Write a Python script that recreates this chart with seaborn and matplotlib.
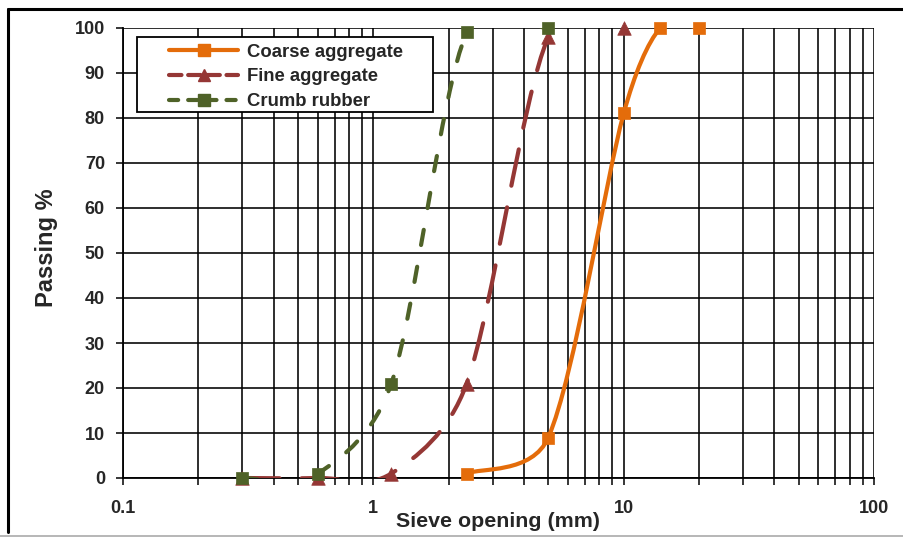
import numpy as np
import matplotlib
matplotlib.use("Agg")
import matplotlib.pyplot as plt
import seaborn as sns
from matplotlib.path import Path
from matplotlib.patches import PathPatch, Rectangle
from matplotlib.lines import Line2D
from matplotlib.ticker import LogLocator, FixedLocator, NullFormatter, FixedFormatter

# ---- data ----
coarse_x = [2.36, 5, 10, 14, 20]
coarse_y = [1, 9, 81, 100, 100]
fine_x = [0.3, 0.6, 1.18, 2.36, 5, 10]
fine_y = [0, 0, 1, 21, 98, 100]
rubber_x = [0.3, 0.6, 1.18, 2.36, 5]
rubber_y = [0, 1, 21, 99, 100]

series_names = ["Coarse aggregate", "Fine aggregate", "Crumb rubber"]
x_ticks = [0.1, 1, 10, 100]
x_tick_labels = ["0.1", "1", "10", "100"]
y_ticks = list(range(0, 101, 10))

colors = ["#E46C0A", "#953735", "#4F6228"]
markers = ["s", "^", "s"]
dashes = [None, (8.9, 5.3), (3.7, 5.3)]

sns.set_style("white")
plt.rcParams["font.family"] = ["Liberation Sans", "DejaVu Sans"]
plt.rcParams["font.weight"] = "bold"

fig = plt.figure(figsize=(9.04, 5.37), dpi=100)
ax = fig.add_axes([123 / 904, 59 / 537, 751 / 904, 450 / 537])
ax.set_xscale("log")
ax.set_xlim(0.1, 100)
ax.set_ylim(0, 100)

# grid
ax.xaxis.set_major_locator(FixedLocator(x_ticks))
ax.xaxis.set_major_formatter(FixedFormatter(x_tick_labels))
ax.xaxis.set_minor_locator(LogLocator(base=10, subs=np.arange(2, 10)))
ax.xaxis.set_minor_formatter(NullFormatter())
ax.yaxis.set_major_locator(FixedLocator(y_ticks))
ax.grid(True, which="both", axis="x", color="black", linewidth=1.15)
ax.grid(True, which="major", axis="y", color="black", linewidth=1.15)
ax.set_axisbelow(True)
for s in ["top", "right"]:
    ax.spines[s].set_visible(False)
for s in ["left", "bottom"]:
    ax.spines[s].set_color("black")
    ax.spines[s].set_linewidth(1.3)
ax.tick_params(axis="both", which="both", direction="out", length=5, width=1.1,
               color="black", labelsize=13, bottom=True, left=True)
ax.tick_params(axis="x", pad=11)
ax.tick_params(axis="y", pad=8)
for lab in ax.get_xticklabels() + ax.get_yticklabels():
    lab.set_fontweight("bold")

fig.canvas.draw()


def smooth_path(xs, ys, k=1 / 6, cap=0.45):
    """Excel-like smoothed line: cubic Bezier segments in display space."""
    pts = ax.transData.transform(np.column_stack([xs, ys]))
    n = len(pts)
    verts = [pts[0]]
    codes = [Path.MOVETO]

    def limit(v, L):
        m = np.hypot(*v)
        return v * (cap * L / m) if m > cap * L else v

    for i in range(n - 1):
        p1, p2 = pts[i], pts[i + 1]
        L = np.hypot(*(p2 - p1))
        p0 = pts[i - 1] if i > 0 else p1
        p3 = pts[i + 2] if i + 2 < n else p2
        c1 = p1 + limit((p2 - p0) * k, L)
        c2 = p2 - limit((p3 - p1) * k, L)
        verts += [c1, c2, p2]
        codes += [Path.CURVE4] * 3
    data = ax.transData.inverted().transform(np.array(verts))
    return Path(data, codes)


all_x = [coarse_x, fine_x, rubber_x]
all_y = [coarse_y, fine_y, rubber_y]
handles = []
for i, (xs, ys) in enumerate(zip(all_x, all_y)):
    z = 3 + 2 * i
    patch = PathPatch(smooth_path(xs, ys), fill=False, edgecolor=colors[i],
                      linewidth=3.0, capstyle="round", joinstyle="round", zorder=z)
    if dashes[i] is not None:
        patch.set_linestyle((0, dashes[i]))
    ax.add_patch(patch)
    sns.scatterplot(x=xs, y=ys, marker=markers[i], s=75 if markers[i] == "s" else 95,
                    color=colors[i], edgecolor=colors[i], linewidth=0.5, ax=ax,
                    zorder=z + 1, clip_on=False, legend=False)
    h = Line2D([], [], color=colors[i], linewidth=3.0,
               linestyle="-" if dashes[i] is None else (0, (3.0, 1.6) if i == 1 else (2.2, 2.4)),
               marker=markers[i], markersize=9, markerfacecolor=colors[i],
               markeredgecolor=colors[i], solid_capstyle="round", dash_capstyle="round")
    handles.append(h)

# legend frame
ax.add_patch(Rectangle((14 / 751, (478 - 112) / 450), (433 - 137) / 751, 75 / 450,
                       transform=ax.transAxes, facecolor="white", edgecolor="black",
                       linewidth=1.3, zorder=19, clip_on=False))
leg = ax.legend(handles, series_names, loc="center left",
                bbox_to_anchor=((169 - 123) / 751, (478 - 77) / 450),
                frameon=False, prop={"weight": "bold", "size": 13.3}, handlelength=3.75,
                labelspacing=0.42, borderpad=0, handletextpad=0.45, borderaxespad=0)
leg.set_zorder(20)

ax.set_xlabel("Sieve opening (mm)", fontsize=15.4, fontweight="bold")
ax.xaxis.set_label_coords(0.5, (478 - 512) / 450)
ax.set_ylabel("Passing %", fontsize=17, fontweight="bold")
ax.yaxis.set_label_coords(-0.087, (478 - 248) / 450)

# outer chart frame
fig.add_artist(Line2D([8 / 904, 8 / 904], [5 / 537, 528 / 537], color="black", linewidth=2.2))
fig.add_artist(Line2D([8 / 904, 1.0], [528 / 537, 528 / 537], color="black", linewidth=2.2))
fig.add_artist(Line2D([0, 1.0], [1.5 / 537, 1.5 / 537], color="#AAAAAA", linewidth=1.2))

fig.savefig("out.png", dpi=100)
